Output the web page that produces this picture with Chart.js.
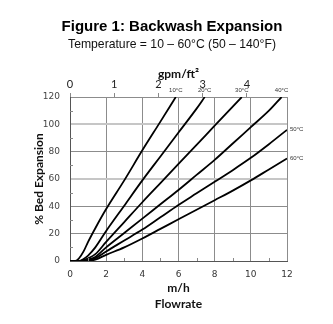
<!DOCTYPE html>
<html>
<head>
<meta charset="utf-8">
<script src="https://cdn.jsdelivr.net/npm/chart.js@4"></script>
<style>
html, body { margin: 0; padding: 0; background: #fff; }
#wrap { width: 333px; height: 324px; }
</style>
</head>
<body>
<div id="wrap"><canvas id="chart"></canvas></div>
<script>
// values (flowrate m/h -> % bed expansion)
var tempLabels = ["10°C", "20°C", "30°C", "40°C", "50°C", "60°C"];

var flow10 = [0, 0.3, 0.5, 0.75, 1, 1.4, 2, 3, 4, 5, 5.85];
var exp10  = [0, 0, 2, 7, 14, 24, 38, 59, 81, 102, 120];

var flow20 = [0, 0.5, 0.75, 1, 1.4, 2, 3, 4, 5, 6, 7, 7.45];
var exp20  = [0, 0, 1.5, 4, 10, 22, 40.5, 59, 76.5, 94, 111.5, 120];

var flow30 = [0, 0.6, 1, 1.4, 2, 3, 4, 5, 6, 7, 8, 9.5];
var exp30  = [0, 0, 2, 5, 14, 28.5, 43, 57, 71, 85, 99, 120];

var flow40 = [0, 0.7, 1, 1.4, 2, 3, 4, 5, 6, 7, 8, 9, 10, 11, 11.7];
var exp40  = [0, 0, 1, 3, 10, 20.5, 31, 41.5, 52, 63, 74, 86, 98, 110, 120];

var flow50 = [0, 0.8, 1.4, 2, 3, 4, 5, 6, 7, 8, 9, 10, 11, 12];
var exp50  = [0, 0, 2, 7, 15, 23, 32, 41, 49.5, 58, 66.5, 75.5, 85.5, 96];

var flow60 = [0, 0.9, 1.4, 2, 3, 4, 5, 6, 7, 8, 9, 10, 11, 12];
var exp60  = [0, 0, 1, 4.5, 10, 16.5, 23.5, 30.5, 37.5, 44.5, 51.5, 59, 67, 75];

var flowTicks = [0, 1, 2, 3, 4, 5, 6, 7, 8, 9, 10, 11, 12];
var gpmTicks = [0, 1, 2, 3, 4];
var expTicks = [0, 10, 20, 30, 40, 50, 60, 70, 80, 90, 100, 110, 120];
var MH_PER_GPM = 2.4466;

var flows = [flow10, flow20, flow30, flow40, flow50, flow60];
var exps = [exp10, exp20, exp30, exp40, exp50, exp60];

function toPoints(xs, ys) {
    var pts = [];
    for (let i = 0; i < xs.length; i++) {
        pts.push({ x: xs[i], y: ys[i] });
    }
    return pts;
}

var datasets = tempLabels.map((t, i) => ({
    label: t,
    data: toPoints(flows[i], exps[i]),
    borderColor: "#000",
    borderWidth: 1.8,
    pointRadius: 0,
    showLine: true,
    fill: false,
    cubicInterpolationMode: "monotone",
    xAxisID: "x",
    yAxisID: "y"
}));

// minor tick marks drawn inside the plot + temperature tags at the curve ends
var extras = {
    id: "extras",
    afterDatasetsDraw(chart) {
        const ctx = chart.ctx;
        const xs = chart.scales.x, ys = chart.scales.y;
        const area = chart.chartArea;
        ctx.save();
        ctx.strokeStyle = "#888";
        ctx.lineWidth = 1;
        flowTicks.forEach(v => {
            if (v % 2 === 1) {
                const px = Math.round(xs.getPixelForValue(v)) + 0.5;
                ctx.beginPath();
                ctx.moveTo(px, area.bottom);
                ctx.lineTo(px, area.bottom - 3);
                ctx.stroke();
            }
        });
        expTicks.forEach(v => {
            if (v % 20 === 10) {
                const py = Math.round(ys.getPixelForValue(v)) + 0.5;
                ctx.beginPath();
                ctx.moveTo(area.left, py);
                ctx.lineTo(area.left + 3, py);
                ctx.stroke();
            }
        });

        ctx.fillStyle = "#333";
        ctx.font = "6px 'Liberation Sans'";
        chart.data.datasets.forEach(ds => {
            const last = ds.data[ds.data.length - 1];
            const px = xs.getPixelForValue(last.x);
            const py = ys.getPixelForValue(last.y);
            ctx.textBaseline = "middle";
            if (last.y >= 120) {
                ctx.textAlign = "center";
                ctx.fillText(ds.label, px, py - 7);
            } else {
                ctx.textAlign = "left";
                ctx.fillText(ds.label, px + 3, py);
            }
        });
        ctx.restore();
    }
};

new Chart(document.getElementById("chart"), {
    type: "scatter",
    data: { datasets: datasets },
    plugins: [extras],
    options: {
        responsive: true,
        maintainAspectRatio: false,
        animation: false,
        layout: { padding: { left: 11, right: 0, top: 0, bottom: 0 } },
        plugins: {
            legend: { display: false },
            tooltip: { enabled: false },
            title: {
                display: true,
                text: "Figure 1: Backwash Expansion",
                color: "#000",
                font: { family: "'Liberation Sans'", size: 15, weight: "bold" },
                padding: { top: 18, bottom: 1.5 }
            },
            subtitle: {
                display: true,
                text: "Temperature = 10 – 60°C (50 – 140°F)",
                color: "#111",
                font: { family: "'Liberation Sans'", size: 12.2 },
                padding: { top: 0, bottom: 0 }
            }
        },
        scales: {
            x: {
                type: "linear",
                position: "bottom",
                min: 0,
                max: 12,
                afterBuildTicks: s => { s.ticks = flowTicks.map(v => ({ value: v })); },
                afterFit: s => { s.height = 63; },
                ticks: {
                    padding: 8,
                    color: "#333",
                    font: { family: "'DejaVu Sans'", size: 9 },
                    callback: v => (v % 2 === 0 ? v : "")
                },
                grid: {
                    drawTicks: false,
                    color: c => (c.tick && c.tick.value % 2 === 0 ? "#8c8c8c" : "rgba(0,0,0,0)"),
                    lineWidth: 1
                },
                border: { color: "#555", width: 1 },
                title: {
                    display: true,
                    text: ["m/h", "Flowrate"],
                    color: "#111",
                    font: { family: "Lato", size: 12, weight: "bold", lineHeight: 1.35 },
                    padding: { top: 0, bottom: 12 }
                }
            },
            x2: {
                type: "linear",
                position: "top",
                min: 0,
                max: 12 / MH_PER_GPM,
                afterBuildTicks: s => { s.ticks = gpmTicks.map(v => ({ value: v })); },
                afterFit: s => { s.height = 44.9; },
                ticks: {
                    padding: 2,
                    color: "#222",
                    font: { family: "Lato", size: 11 }
                },
                grid: {
                    drawOnChartArea: false,
                    drawTicks: true,
                    tickLength: 4,
                    tickColor: "#888"
                },
                border: { display: false },
                title: {
                    display: true,
                    text: "gpm/ft²",
                    color: "#111",
                    font: { family: "Lato", size: 12, weight: "bold" },
                    padding: { top: 14.5, bottom: 0 }
                }
            },
            y: {
                type: "linear",
                position: "left",
                min: 0,
                max: 120,
                afterBuildTicks: s => { s.ticks = expTicks.map(v => ({ value: v })); },
                afterFit: s => { s.width = 59; },
                ticks: {
                    padding: 10,
                    color: "#444",
                    font: { family: "'DejaVu Sans'", size: 9 },
                    callback: v => (v % 20 === 0 ? v : "")
                },
                grid: {
                    drawTicks: false,
                    color: c => {
                        const v = c.tick ? c.tick.value : 0;
                        if (v % 20 !== 0) return "rgba(0,0,0,0)";
                        if (v === 60 || v === 100) return "#c6c6c6";
                        return "#8c8c8c";
                    },
                    lineWidth: c => {
                        const v = c.tick ? c.tick.value : 0;
                        return (v === 60 || v === 100) ? 2 : 1;
                    }
                },
                border: { color: "#555", width: 1 },
                title: {
                    display: true,
                    text: "% Bed Expansion",
                    color: "#111",
                    font: { family: "Lato", size: 12, weight: "bold" },
                    padding: { top: 21, bottom: 0 }
                }
            },
            y2: {
                type: "linear",
                position: "right",
                min: 0,
                max: 120,
                afterFit: s => { s.width = 46; },
                ticks: { display: false },
                grid: { display: false },
                border: { display: false }
            }
        }
    }
});
</script>
</body>
</html>
